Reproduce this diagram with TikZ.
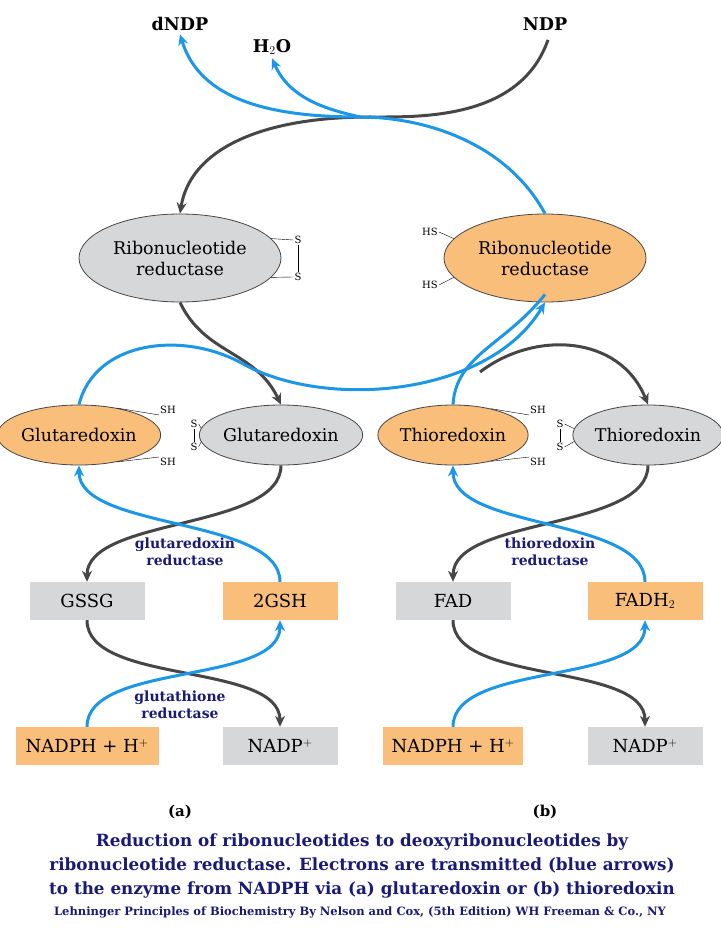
\documentclass[tikz,border=0pt]{standalone}
\usepackage{fontspec}
\setmainfont{DejaVu Serif}
\usetikzlibrary{arrows.meta,shapes.geometric}
\definecolor{eblue}{RGB}{28,150,230}
\definecolor{egrey}{RGB}{70,70,72}
\definecolor{ored}{RGB}{249,190,122}
\definecolor{lgrey}{RGB}{214,215,217}
\definecolor{navy}{RGB}{25,25,120}
\tikzset{
  enz/.style={ellipse, draw=egrey, thick, minimum width=#1, font=\fontsize{17.5}{21}\selectfont, align=center, inner sep=0pt},
  box/.style={rectangle, minimum width=115pt, minimum height=38pt, font=\fontsize{18}{20}\selectfont},
  ared/.style={box, fill=ored},
  agrey/.style={box, fill=lgrey},
  bl/.style={draw=eblue, line width=3pt, -{Stealth[length=11pt,width=10pt]}},
  gr/.style={draw=egrey, line width=3pt, -{Stealth[length=11pt,width=10pt]}},
  sh/.style={font=\fontsize{10}{11}\selectfont, inner sep=1pt},
  lab/.style={font=\bfseries\fontsize{14}{17}\selectfont, text=navy, align=center},
  top/.style={font=\bfseries\fontsize{17.5}{19}\selectfont}
}
\begin{document}
\begin{tikzpicture}[x=1pt,y=-1pt]
\useasboundingbox (0,0) rectangle (720,928);
% top compounds
\node[top] (dndp) at (180,24) {dNDP};
\node[top] (water) at (272,47) {H$_2$O};
\node[top] (ndp) at (545,24) {NDP};
% ribonucleotide reductase
\node[enz=202pt, fill=lgrey, minimum height=88pt] (rrox) at (180,258) {Ribonucleotide\\reductase};
\node[enz=202pt, fill=ored, minimum height=88pt] (rrred) at (545,258) {Ribonucleotide\\reductase};
\node[sh] (s1) at (298,240) {S};
\node[sh] (s2) at (298,277) {S};
\draw (s1) -- (s2);
\draw (s1.west) -- (rrox.12);
\draw (s2.west) -- (rrox.-12);
\node[sh] (hs1) at (430,232) {HS};
\node[sh] (hs2) at (430,285) {HS};
\draw (hs1.east) -- (rrred.168);
\draw (hs2.east) -- (rrred.192);
% glutaredoxin / thioredoxin
\node[enz=148pt, fill=ored, minimum height=60pt] (grxr) at (79,435) {Glutaredoxin};
\node[enz=142pt, fill=lgrey, minimum height=60pt] (grxo) at (281,435) {Glutaredoxin};
\node[enz=140pt, fill=ored, minimum height=60pt] (trxr) at (453,435) {Thioredoxin};
\node[enz=140pt, fill=lgrey, minimum height=60pt] (trxo) at (648,435) {Thioredoxin};
\foreach \e/\x in {grxr/168,trxr/538}{
  \node[sh] (\e a) at (\x,410) {SH};
  \node[sh] (\e b) at (\x,462) {SH};
  \draw (\e a.south west) -- (\e.35);
  \draw (\e b.north west) -- (\e.-35);
}
\foreach \e/\x in {grxo/194,trxo/560}{
  \node[sh] (\e a) at (\x,424) {S};
  \node[sh] (\e b) at (\x,447) {S};
  \draw (\e a) -- (\e b);
  \draw (\e a.east) -- (\e.175);
  \draw (\e b.east) -- (\e.185);
}
% boxes
\node[agrey] (gssg) at (87,601) {GSSG};
\node[ared] (gsh) at (280,601) {2GSH};
\node[agrey] (fad) at (453,601) {FAD};
\node[ared] (fadh) at (645,601) {FADH$_2$};
\node[ared, minimum width=143pt] (nadpha) at (87,746) {NADPH + H$^+$};
\node[agrey] (nadpa) at (280,746) {NADP$^+$};
\node[ared, minimum width=140pt] (nadphb) at (453,746) {NADPH + H$^+$};
\node[agrey] (nadpb) at (645,746) {NADP$^+$};
% enzyme labels
\node[lab] (grr) at (185,552) {glutaredoxin\\reductase};
\node[lab] (gtr) at (180,705) {glutathione\\reductase};
\node[lab] (trr) at (550,552) {thioredoxin\\reductase};
% top arrows
\draw[gr] (ndp.south) ++(3,6) .. controls (520,120) and (420,117) .. (370,117) .. controls (260,117) and (190,150) .. (rrox.north);
\draw[bl] (rrred.north) .. controls (505,140) and (420,117) .. (360,117) .. controls (270,117) and (200,100) .. (dndp.south);
\draw[bl] (360,117) .. controls (330,110) and (290,100) .. (water.south);
% to ribonucleotide reductase
\draw[gr] (rrox.south) .. controls (205,355) and (255,350) .. (grxo.north);
\draw[gr] (480,372) .. controls (535,330) and (620,335) .. (trxo.north);
\draw[draw=eblue, line width=3pt] (trxr.north) .. controls (456,355) and (505,345) .. ([yshift=8]rrred.south);
\draw[bl] (grxr.north) .. controls (95,340) and (185,330) .. (245,365) .. controls (330,410) and (490,395) .. (rrred.south);
% lower loops
\foreach \ox/\rx/\gb/\rb/\pb/\nb in {grxo/grxr/gssg/gsh/nadpa/nadpha, trxo/trxr/fad/fadh/nadpb/nadphb}{
  \draw[gr] (\ox.south) .. controls ([yshift=-65]\ox.south) and ([yshift=65]\gb.north) .. (\gb.north);
  \draw[bl] (\rb.north) .. controls ([yshift=65]\rb.north) and ([yshift=-65]\rx.south) .. (\rx.south);
  \draw[gr] (\gb.south) .. controls ([yshift=-65]\gb.south) and ([yshift=65]\pb.north) .. (\pb.north);
  \draw[bl] (\nb.north) .. controls ([yshift=65]\nb.north) and ([yshift=-65]\rb.south) .. (\rb.south);
}
% caption
\node[font=\bfseries\fontsize{15}{16}\selectfont] (pa) at (180,812) {(a)};
\node[font=\bfseries\fontsize{15}{16}\selectfont] (pb) at (545,812) {(b)};
\node[font=\bfseries\fontsize{16.8}{24}\selectfont, text=navy, align=center] (cap) at (362,866)
  {Reduction of ribonucleotides to deoxyribonucleotides by\\ribonucleotide reductase. Electrons are transmitted (blue arrows)\\to the enzyme from NADPH via (a) glutaredoxin or (b) thioredoxin};
\node[font=\bfseries\fontsize{11.5}{13}\selectfont, text=navy] (src) at (360,912) {Lehninger Principles of Biochemistry By Nelson and Cox, (5th Edition) WH Freeman \& Co., NY};
\end{tikzpicture}
\end{document}
